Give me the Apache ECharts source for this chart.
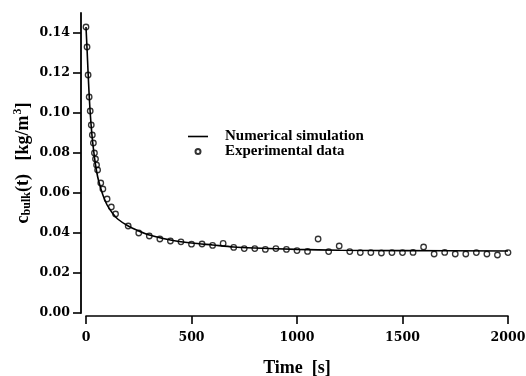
<!DOCTYPE html>
<html>
<head>
<meta charset="utf-8">
<script src="https://cdn.jsdelivr.net/npm/echarts@6/dist/echarts.min.js"></script>
<style>
  html, body { margin: 0; padding: 0; background: #fff; }
  #chart { width: 526px; height: 376px; }
</style>
</head>
<body>
<div id="chart"></div>
<script>
// numerical simulation curve [time s, c kg/m3]
const simTime = [0, 5, 10, 15, 20, 25, 30, 40, 50, 60, 80, 100, 125, 150, 200, 250, 300, 400, 500, 600, 700, 800, 1000, 1200, 1500, 2000];
const simConc = [0.143, 0.132, 0.120, 0.109, 0.100, 0.093, 0.087, 0.078, 0.071, 0.066, 0.059, 0.054, 0.050, 0.047, 0.0435, 0.041, 0.039, 0.0365, 0.035, 0.034, 0.033, 0.0325, 0.0318, 0.0314, 0.0312, 0.031];

// experimental points
const expTime = [0, 5, 10, 15, 20, 25, 30, 35, 40, 45, 50, 55, 70, 80, 100, 120, 140, 200, 250, 300, 350, 400, 450, 500, 550, 600, 650, 700, 750, 800, 850, 900, 950, 1000, 1050, 1100, 1150, 1200, 1250, 1300, 1350, 1400, 1450, 1500, 1550, 1600, 1650, 1700, 1750, 1800, 1850, 1900, 1950, 2000];
const expConc = [0.143, 0.133, 0.119, 0.108, 0.101, 0.094, 0.089, 0.085, 0.080, 0.077, 0.074, 0.0715, 0.065, 0.062, 0.057, 0.053, 0.0495, 0.0435, 0.040, 0.0385, 0.037, 0.036, 0.0356, 0.0344, 0.0345, 0.0338, 0.0348, 0.0328, 0.0322, 0.0322, 0.0318, 0.0322, 0.0318, 0.0312, 0.0308, 0.037, 0.0307, 0.0335, 0.0307, 0.0302, 0.0302, 0.030, 0.0302, 0.0302, 0.0303, 0.033, 0.0295, 0.0303, 0.0295, 0.0295, 0.0302, 0.0295, 0.029, 0.0302];

const yTicks = [0, 0.02, 0.04, 0.06, 0.08, 0.10, 0.12, 0.14];
const xTicks = [0, 500, 1000, 1500, 2000];

const serif = '"Liberation Serif", "Times New Roman", serif';
const tickFont = '"DejaVu Serif", serif';

const chart = echarts.init(document.getElementById('chart'));
chart.setOption({
  animation: false,
  grid: { left: 86, right: 18, top: 13, bottom: 63, containLabel: false, outerBoundsMode: 'none' },
  legend: {
    orient: 'vertical',
    left: 188,
    top: 129,
    padding: 0,
    itemWidth: 20,
    itemHeight: 5,
    itemGap: 0,
    textStyle: { fontFamily: serif, fontWeight: 'bold', fontSize: 15, color: '#000', padding: [0, 0, 0, 12] },
    data: [
      { name: 'Numerical simulation', icon: 'path://M0,0H20V1.6H0Z' },
      { name: 'Experimental data' }
    ]
  },
  xAxis: {
    type: 'value',
    min: 0,
    max: 2000,
    interval: 500,
    offset: 3,
    splitLine: { show: false },
    axisLine: { onZero: false, lineStyle: { color: '#000', width: 1.6 } },
    axisTick: { customValues: xTicks, length: 8, lineStyle: { color: '#000', width: 1.6 } },
    axisLabel: {
      customValues: xTicks,
      margin: 15,
      color: '#000',
      fontFamily: tickFont,
      fontWeight: 'bold',
      fontSize: 12.5,
      formatter: v => String(v)
    },
    name: 'Time  [s]',
    nameLocation: 'middle',
    nameGap: 43,
    nameMoveOverlap: false,
    nameTextStyle: { fontFamily: serif, fontWeight: 'bold', fontSize: 18, color: '#000' }
  },
  yAxis: {
    type: 'value',
    min: 0,
    max: 0.15,
    offset: 5,
    splitLine: { show: false },
    axisLine: { onZero: false, lineStyle: { color: '#000', width: 1.8 } },
    axisTick: { customValues: yTicks, length: 8, lineStyle: { color: '#000', width: 1.6 } },
    axisLabel: {
      customValues: yTicks,
      margin: 11,
      color: '#000',
      fontFamily: tickFont,
      fontWeight: 'bold',
      fontSize: 12.5,
      formatter: v => v.toFixed(2)
    },
    name: '{m|c}{s|bulk}{m|(t)   [kg/m}{p|3}{m|]}',
    nameLocation: 'middle',
    nameRotate: 90,
    nameGap: 47,
    nameMoveOverlap: false,
    nameTextStyle: {
      rich: {
        m: { fontFamily: serif, fontWeight: 'bold', fontSize: 18, color: '#000' },
        s: { fontFamily: serif, fontWeight: 'bold', fontSize: 12, color: '#000', padding: [8, 0, 0, 0] },
        p: { fontFamily: serif, fontWeight: 'bold', fontSize: 12, color: '#000', padding: [0, 0, 10, 1] }
      }
    }
  },
  series: [
    {
      name: 'Experimental data',
      type: 'scatter',
      data: expTime.map((t, i) => [t, expConc[i]]),
      symbol: 'circle',
      symbolSize: 5.5,
      itemStyle: { color: 'rgba(0,0,0,0)', borderColor: '#000', borderWidth: 1.3 },
      z: 2
    },
    {
      name: 'Numerical simulation',
      type: 'line',
      data: simTime.map((t, i) => [t, simConc[i]]),
      smooth: 0.3,
      showSymbol: false,
      symbol: 'none',
      itemStyle: { color: '#000' },
      lineStyle: { color: '#000', width: 1.6 },
      z: 3
    }
  ]
});
</script>
</body>
</html>
